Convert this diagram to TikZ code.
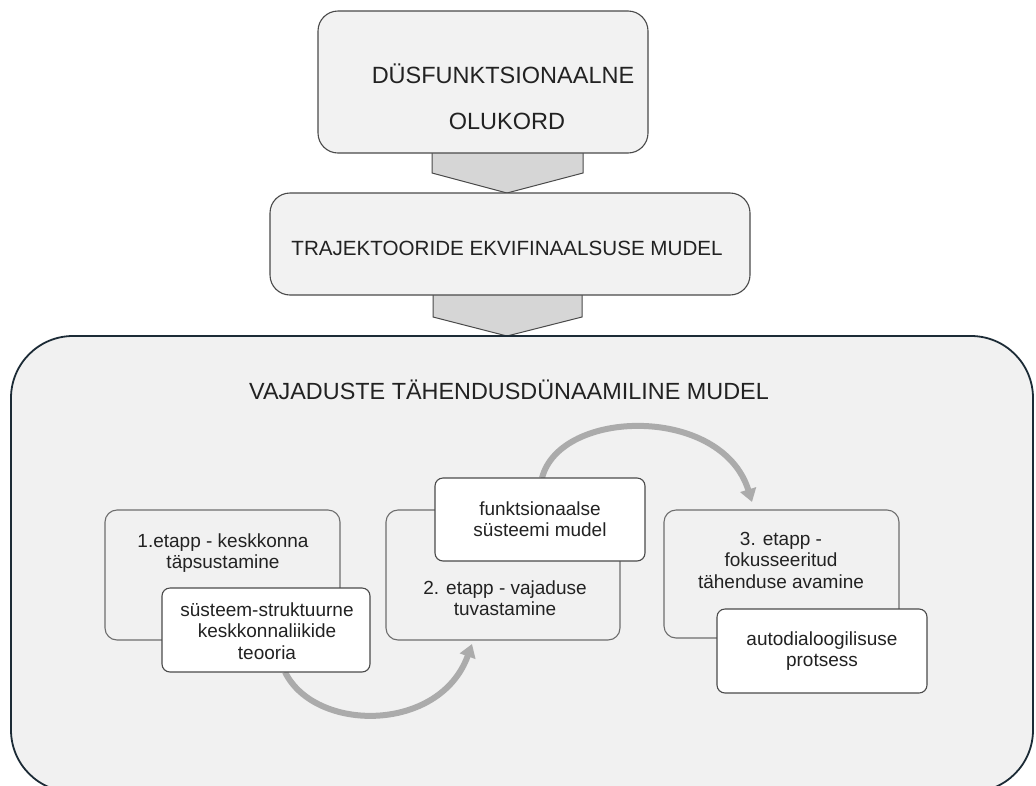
\documentclass[tikz,border=0pt]{standalone}
\usepackage{fontspec}
\setmainfont{Liberation Sans}
\usetikzlibrary{arrows.meta}
\definecolor{panel}{HTML}{F1F1F1}
\definecolor{boxfill}{HTML}{F2F2F2}
\definecolor{frame}{HTML}{1C2B36}
\definecolor{edge}{HTML}{4A4A4A}
\definecolor{softedge}{HTML}{6E6E6E}
\definecolor{chev}{HTML}{D6D6D6}
\definecolor{flow}{HTML}{ABABAB}
\definecolor{ink}{HTML}{222222}
\begin{document}
\begin{tikzpicture}[x=1pt,y=-1pt,
  headbox/.style={draw=edge, fill=boxfill, line width=1.1pt, rounded corners=20pt, inner sep=0pt},
  chevron/.style={draw=edge, fill=chev, line width=1pt, line join=miter},
  mainbox/.style={draw=frame, fill=panel, line width=1.8pt, rounded corners=62pt},
  stagebox/.style={draw=softedge, fill=panel, line width=1.1pt, rounded corners=12pt, inner sep=0pt},
  notebox/.style={draw=edge, fill=white, line width=1.1pt, rounded corners=8pt, inner sep=0pt},
  stagetext/.style={text=ink, align=center, inner sep=0pt, font=\fontsize{19}{21.5}\selectfont},
  headtext/.style={text=ink, inner sep=0pt, font=\fontsize{23.5}{28}\selectfont},
  flowarrow/.style={draw=flow, line width=6pt, -{Triangle[length=13pt,width=16pt]}}
]
\useasboundingbox (0,0) rectangle (1036,785);
\fill[white] (0,0) rectangle (1036,785);

% chevrons between the upper boxes
\draw[chevron] (432,150) -- (583,150) -- (583,173) -- (507,193) -- (432,173) -- cycle;
\draw[chevron] (433,292) -- (582,292) -- (582,317) -- (507,336) -- (433,317) -- cycle;

% upper boxes
\node[headbox, minimum width=330pt, minimum height=142pt] (top) at (483,82) {};
\node[headtext] (toptext1) at (503,74) {DÜSFUNKTSIONAALNE};
\node[headtext] (toptext2) at (507,121) {OLUKORD};

\node[headbox, minimum width=480pt, minimum height=102pt] (traj) at (510,244) {};
\node[text=ink, inner sep=0pt, font=\fontsize{20.6}{24}\selectfont] (trajtext) at (507,248) {TRAJEKTOORIDE EKVIFINAALSUSE MUDEL};

% main panel
\draw[mainbox] (11,336) rectangle (1033,792);
\node[text=ink, inner sep=0pt, font=\fontsize{23.4}{28}\selectfont] (title) at (509,390) {VAJADUSTE TÄHENDUSDÜNAAMILINE MUDEL};

% stage boxes
\node[stagebox, minimum width=235pt, minimum height=130pt] (s1) at (222.5,575) {};
\node[stagebox, minimum width=234pt, minimum height=130pt] (s2) at (503,575) {};
\node[stagebox, minimum width=235pt, minimum height=128pt] (s3) at (781.5,574) {};

\node[stagetext] (s1text) at (223,553) {1.etapp - keskkonna\\täpsustamine};
\node[stagetext] (s2text) at (505,598) {2. etapp - vajaduse\\tuvastamine};
\node[stagetext] (s3text) at (781,560) {3. etapp -\\fokusseeritud\\tähenduse avamine};

% flow between the stages
\coordinate (f1s) at (285,672);
\coordinate (f1e) at (472,644);
\coordinate (f2s) at (542,478);
\coordinate (f2e) at (752,502);
\draw[flowarrow] (f1s) .. controls (315,733) and (440,733) .. (f1e);
\draw[flowarrow] (f2s) .. controls (560,408) and (722,405) .. (f2e);

% attached notes
\node[notebox, minimum width=208pt, minimum height=84pt] (n1) at (266,630) {};
\node[notebox, minimum width=210pt, minimum height=83pt] (n2) at (540,519.5) {};
\node[notebox, minimum width=210pt, minimum height=84pt] (n3) at (822,651) {};

\node[stagetext] (n1text) at (267,631) {süsteem-struktuurne\\keskkonnaliikide\\teooria};
\node[stagetext] (n2text) at (540,519) {funktsionaalse\\süsteemi mudel};
\node[stagetext] (n3text) at (822,651) {autodialoogilisuse\\protsess};
\end{tikzpicture}
\end{document}
